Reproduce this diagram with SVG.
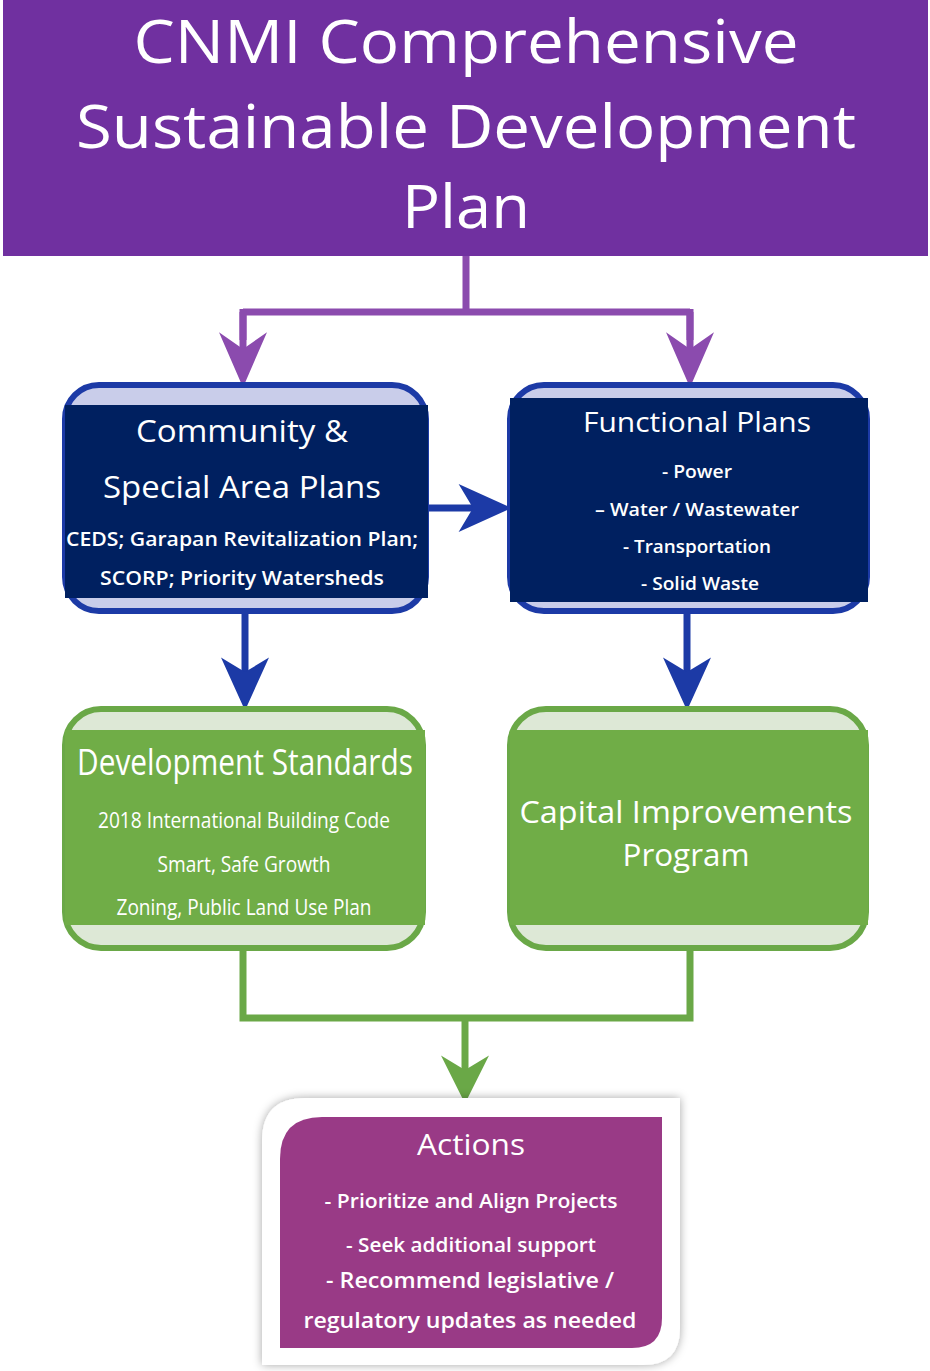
<svg xmlns="http://www.w3.org/2000/svg" width="930" height="1371" viewBox="0 0 930 1371">
<style>
.t{font-family:"Open Sans","Liberation Sans",sans-serif;fill:#fff;text-anchor:middle}
.c{font-family:"Open Sans","Liberation Sans",sans-serif;fill:#fff;text-anchor:middle}
.s{font-weight:600}
.pl{stroke:#8B4BAE;stroke-width:7;fill:none}
.bl{stroke:#1C3AA6;stroke-width:7;fill:none}
.gl{stroke:#6AA847;stroke-width:7;fill:none}
</style>
<defs>
<marker id="ap" markerUnits="userSpaceOnUse" markerWidth="60" markerHeight="60" refX="14" refY="0" orient="auto" viewBox="0 -25 50 50" overflow="visible"><path d="M0,-20 L46,0 L0,20 L14,0 Z" fill="#8B4BAE"/></marker>
<marker id="ab" markerUnits="userSpaceOnUse" markerWidth="60" markerHeight="60" refX="12" refY="0" orient="auto" viewBox="0 -25 50 50" overflow="visible"><path d="M0,-20 L44,0 L0,20 L12,0 Z" fill="#1C3AA6"/></marker>
<marker id="ag" markerUnits="userSpaceOnUse" markerWidth="60" markerHeight="60" refX="12" refY="0" orient="auto" viewBox="0 -25 50 50" overflow="visible"><path d="M0,-20 L40,0 L0,20 L12,0 Z" fill="#6AA847"/></marker>
<filter id="sh" x="-10%" y="-10%" width="120%" height="120%"><feDropShadow dx="0" dy="0" stdDeviation="5" flood-color="#000" flood-opacity="0.35"/></filter>
</defs>
<rect width="930" height="1371" fill="#fff"/>

<g id="connectors">
<path class="pl" d="M466,256 V312 M243,312 H690 M243,312 V340 M690,312 V340"/>
<path class="pl" d="M243,309 V349" marker-end="url(#ap)"/>
<path class="pl" d="M690,309 V349" marker-end="url(#ap)"/>
<path class="bl" d="M428,508 H473" marker-end="url(#ab)"/>
<path class="bl" d="M245,613 V672" marker-end="url(#ab)"/>
<path class="bl" d="M687,613 V672" marker-end="url(#ab)"/>
<path class="gl" d="M243,950 V1018 H690 V950"/>
<path class="gl" d="M465,1018 V1070" marker-end="url(#ag)"/>
</g>

<g id="title">
<rect x="3" y="0" width="925" height="256" fill="#7030A0"/>
<text class="t" x="466" y="63" font-size="60" textLength="665" lengthAdjust="spacingAndGlyphs">CNMI Comprehensive</text>
<text class="t" x="466" y="148" font-size="60" textLength="780" lengthAdjust="spacingAndGlyphs">Sustainable Development</text>
<text class="t" x="466" y="228" font-size="60" textLength="128" lengthAdjust="spacingAndGlyphs">Plan</text>
</g>

<g id="community">
<rect x="65" y="385" width="361" height="226" rx="34" fill="#C9CDEA" stroke="#1C3AA6" stroke-width="6"/>
<rect x="65" y="405" width="363" height="193" fill="#002060"/>
<text class="c" x="242" y="442" font-size="31" textLength="212" lengthAdjust="spacingAndGlyphs">Community &amp;</text>
<text class="c" x="242" y="498" font-size="31" textLength="278" lengthAdjust="spacingAndGlyphs">Special Area Plans</text>
<text class="c s" x="242" y="546" font-size="20" textLength="352" lengthAdjust="spacingAndGlyphs">CEDS; Garapan Revitalization Plan;</text>
<text class="c s" x="242" y="585" font-size="20" textLength="284" lengthAdjust="spacingAndGlyphs">SCORP; Priority Watersheds</text>
</g>

<g id="functional">
<rect x="510" y="385" width="357" height="226" rx="34" fill="#C9CDEA" stroke="#1C3AA6" stroke-width="6"/>
<rect x="510" y="398" width="358" height="204" fill="#002060"/>
<text class="c" x="697" y="432" font-size="27" textLength="228" lengthAdjust="spacingAndGlyphs">Functional Plans</text>
<text class="c s" x="697" y="478" font-size="18" textLength="70" lengthAdjust="spacingAndGlyphs">- Power</text>
<text class="c s" x="697" y="516" font-size="18" textLength="204" lengthAdjust="spacingAndGlyphs">– Water / Wastewater</text>
<text class="c s" x="697" y="553" font-size="18" textLength="148" lengthAdjust="spacingAndGlyphs">- Transportation</text>
<text class="c s" x="700" y="590" font-size="18" textLength="118" lengthAdjust="spacingAndGlyphs">- Solid Waste</text>
</g>

<g id="devstandards">
<rect x="65" y="709" width="358" height="239" rx="36" fill="#DDE8D6" stroke="#6AA847" stroke-width="6"/>
<rect x="65" y="730" width="360" height="195" fill="#70AD47"/>
<text class="c" x="245" y="775" font-size="36" textLength="336" lengthAdjust="spacingAndGlyphs">Development Standards</text>
<text class="c" x="244" y="828" font-size="22" textLength="292" lengthAdjust="spacingAndGlyphs">2018 International Building Code</text>
<text class="c" x="244" y="872" font-size="22" textLength="173" lengthAdjust="spacingAndGlyphs">Smart, Safe Growth</text>
<text class="c" x="244" y="915" font-size="22" textLength="255" lengthAdjust="spacingAndGlyphs">Zoning, Public Land Use Plan</text>
</g>

<g id="cip">
<rect x="510" y="709" width="356" height="239" rx="36" fill="#DDE8D6" stroke="#6AA847" stroke-width="6"/>
<rect x="510" y="730" width="358" height="195" fill="#70AD47"/>
<text class="c" x="686" y="823" font-size="31" textLength="333" lengthAdjust="spacingAndGlyphs">Capital Improvements</text>
<text class="c" x="686" y="866" font-size="31" textLength="127" lengthAdjust="spacingAndGlyphs">Program</text>
</g>

<g id="actions">
<path d="M305,1098 H680 V1328 Q680,1365 643,1365 H262 V1141 Q262,1098 305,1098 Z" fill="#fff" filter="url(#sh)"/>
<path d="M322,1117 H662 V1318 Q662,1348 632,1348 H280 V1159 Q280,1117 322,1117 Z" fill="#993A86"/>
<text class="c" x="471" y="1155" font-size="29" textLength="108" lengthAdjust="spacingAndGlyphs">Actions</text>
<text class="c s" x="471" y="1208" font-size="19" textLength="293" lengthAdjust="spacingAndGlyphs">-  Prioritize and Align Projects</text>
<text class="c s" x="471" y="1252" font-size="19" textLength="250" lengthAdjust="spacingAndGlyphs">- Seek additional support</text>
<text class="c s" x="470" y="1288" font-size="22" textLength="288" lengthAdjust="spacingAndGlyphs">- Recommend legislative /</text>
<text class="c s" x="470" y="1328" font-size="22" textLength="333" lengthAdjust="spacingAndGlyphs">regulatory updates as needed</text>
</g>
</svg>
